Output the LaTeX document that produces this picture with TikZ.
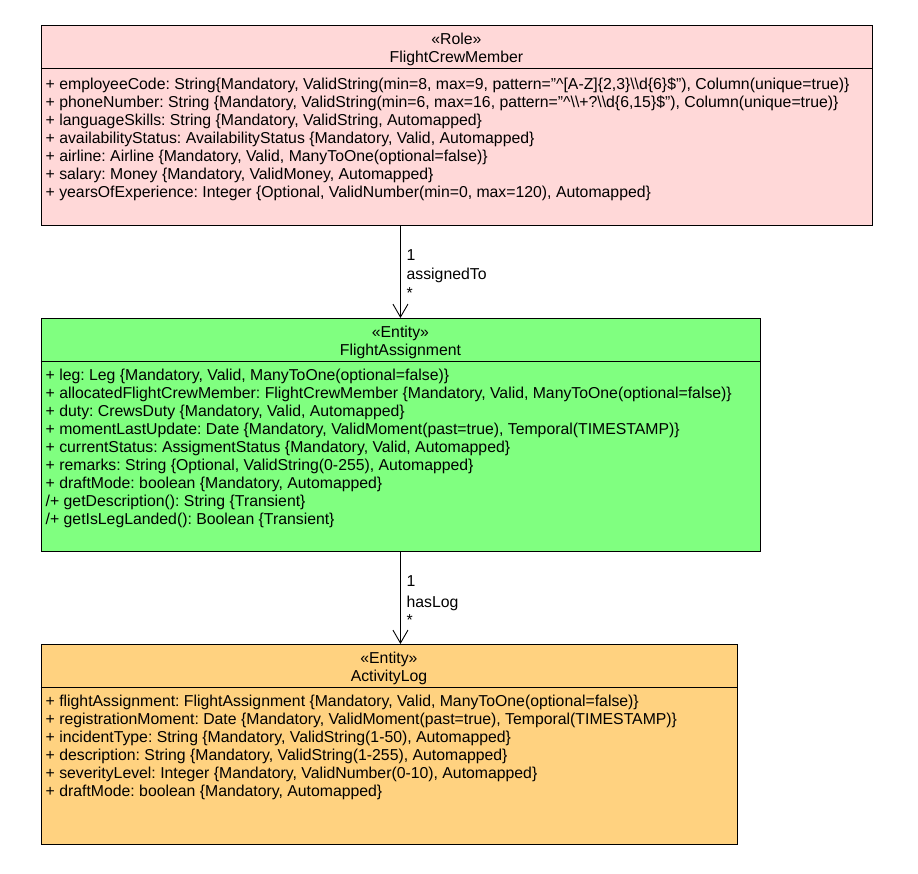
\documentclass[tikz,border=0pt]{standalone}
\usepackage{fontspec}
\setmainfont{Liberation Sans}
\usetikzlibrary{arrows.meta,positioning}
\frenchspacing
\definecolor{rolepink}{RGB}{255,216,216}
\definecolor{entitygreen}{RGB}{128,255,128}
\definecolor{entityorange}{RGB}{255,210,128}
\tikzset{>/.tip={Straight Barb[length=13pt,width=15pt,line width=0.9pt]}}
\tikzset{classbox/.style={draw,line width=0.9pt,anchor=north west,inner sep=0pt}}
\tikzset{compsep/.style={line width=0.9pt}}
\tikzset{stereo/.style={align=center,anchor=north,inner sep=0pt,font=\fontsize{15.8}{18}\selectfont}}
\tikzset{attrs/.style={align=left,anchor=north west,inner sep=0pt,font=\fontsize{15.8}{18}\selectfont}}
\tikzset{role/.style={anchor=base west,inner sep=0pt,font=\fontsize{15.8}{18}\selectfont}}
\def\firstline{\rule{0pt}{13pt}}

\begin{document}
\begin{tikzpicture}[x=1pt,y=-1pt]
  \useasboundingbox (0,0) rectangle (918,874);
  % classes
  \node[classbox,fill=rolepink,minimum width=831pt,minimum height=200pt] (fcm) at (40.5,25) {};
  \node[classbox,fill=entitygreen,minimum width=719pt,minimum height=233pt] (fa) at (40.5,318) {};
  \node[classbox,fill=entityorange,minimum width=696pt,minimum height=200pt] (al) at (40.5,644) {};
  \draw[compsep] ([yshift=-43.5pt]fcm.north west) -- ([yshift=-43.5pt]fcm.north east);
  \draw[compsep] ([yshift=-43.5pt]fa.north west) -- ([yshift=-43.5pt]fa.north east);
  \draw[compsep] ([yshift=-43.5pt]al.north west) -- ([yshift=-43.5pt]al.north east);
  % names
  \node[stereo] (fcm-name) at ([yshift=-6.5pt]fcm.north) {\firstline«Role»\\FlightCrewMember};
  \node[stereo] (fa-name) at ([yshift=-6.5pt]fa.north) {\firstline«Entity»\\FlightAssignment};
  \node[stereo] (al-name) at ([yshift=-6.5pt]al.north) {\firstline«Entity»\\ActivityLog};
  % attributes
  \node[attrs] (fcm-attrs) at ([xshift=5pt,yshift=-51pt]fcm.north west) {%
    \firstline+ employeeCode: String\{Mandatory, ValidString(min=8, max=9, pattern="\textasciicircum[A-Z]\{2,3\}\textbackslash\textbackslash d\{6\}\$"), Column(unique=true)\}\\
    + phoneNumber: String \{Mandatory, ValidString(min=6, max=16, pattern="\textasciicircum\textbackslash\textbackslash+?\textbackslash\textbackslash d\{6,15\}\$"), Column(unique=true)\}\\
    + languageSkills: String \{Mandatory, ValidString, Automapped\}\\
    + availabilityStatus: AvailabilityStatus \{Mandatory, Valid, Automapped\}\\
    + airline: Airline \{Mandatory, Valid, ManyToOne(optional=false)\}\\
    + salary: Money \{Mandatory, ValidMoney, Automapped\}\\
    + yearsOfExperience: Integer \{Optional, ValidNumber(min=0, max=120), Automapped\}};
  \node[attrs] (fa-attrs) at ([xshift=5pt,yshift=-49pt]fa.north west) {%
    \firstline+ leg: Leg \{Mandatory, Valid, ManyToOne(optional=false)\}\\
    + allocatedFlightCrewMember: FlightCrewMember \{Mandatory, Valid, ManyToOne(optional=false)\}\\
    + duty: CrewsDuty \{Mandatory, Valid, Automapped\}\\
    + momentLastUpdate: Date \{Mandatory, ValidMoment(past=true), Temporal(TIMESTAMP)\}\\
    + currentStatus: AssigmentStatus \{Mandatory, Valid, Automapped\}\\
    + remarks: String \{Optional, ValidString(0-255), Automapped\}\\
    + draftMode: boolean \{Mandatory, Automapped\}\\
    /+ getDescription(): String \{Transient\}\\
    /+ getIsLegLanded(): Boolean \{Transient\}};
  \node[attrs] (al-attrs) at ([xshift=5pt,yshift=-49.5pt]al.north west) {%
    \firstline+ flightAssignment: FlightAssignment \{Mandatory, Valid, ManyToOne(optional=false)\}\\
    + registrationMoment: Date \{Mandatory, ValidMoment(past=true), Temporal(TIMESTAMP)\}\\
    + incidentType: String \{Mandatory, ValidString(1-50), Automapped\}\\
    + description: String \{Mandatory, ValidString(1-255), Automapped\}\\
    + severityLevel: Integer \{Mandatory, ValidNumber(0-10), Automapped\}\\
    + draftMode: boolean \{Mandatory, Automapped\}};
  % associations
  \draw[->,line width=0.9pt] (fcm.south -| fa.north) -- (fa.north);
  \node[role] (assigned-src) at ([xshift=6pt,yshift=-34.3pt]fcm.south -| fa.north) {1};
  \node[role] (assigned-name) at ([xshift=6pt,yshift=-53.3pt]fcm.south -| fa.north) {assignedTo};
  \node[role] (assigned-dst) at ([xshift=6pt,yshift=-72.5pt]fcm.south -| fa.north) {*};
  \draw[->,line width=0.9pt] (fa.south) -- (al.north -| fa.south);
  \node[role] (haslog-src) at ([xshift=6pt,yshift=-34.7pt]fa.south) {1};
  \node[role] (haslog-name) at ([xshift=6pt,yshift=-56pt]fa.south) {hasLog};
  \node[role] (haslog-dst) at ([xshift=6pt,yshift=-74pt]fa.south) {*};
\end{tikzpicture}
\end{document}
